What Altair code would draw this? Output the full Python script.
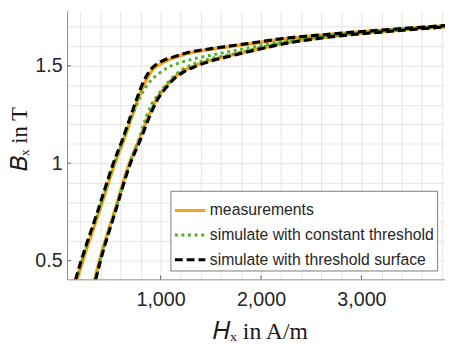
import altair as alt
import pandas as pd

SERIES = ["measurements", "simulate with constant threshold", "simulate with threshold surface"]
COLORS = ["#F5A31A", "#52B028", "#000000"]
DASHES = [[1, 0], [3, 3.7], [8, 4]]
WIDTHS = [3.5, 3.0, 3.2]

# measurements (orange)
meas_up_H = [167, 226, 388, 546, 638, 716, 786, 836, 912, 1010, 1137, 1265, 1490, 1725, 1921, 2215, 2539, 2862, 3200, 3519, 3850]
meas_up_B = [0.40, 0.50, 0.75, 1.00, 1.126, 1.242, 1.343, 1.405, 1.474, 1.513, 1.542, 1.563, 1.584, 1.601, 1.615, 1.637, 1.654, 1.669, 1.682, 1.694, 1.706]
meas_lo_H = [343, 392, 540, 690, 792, 880, 960, 1040, 1128, 1225, 1340, 1450, 1650, 1921, 2215, 2539, 2862, 3200, 3519, 3850]
meas_lo_B = [0.40, 0.50, 0.75, 1.00, 1.126, 1.242, 1.328, 1.386, 1.437, 1.473, 1.500, 1.521, 1.548, 1.580, 1.614, 1.640, 1.660, 1.675, 1.689, 1.701]

# simulate with constant threshold (green dotted)
const_up_H = [160, 218, 380, 540, 634, 712, 745, 800, 873, 971, 1069, 1186, 1333, 1588, 1921, 2215, 2539, 2862, 3200, 3519, 3850]
const_up_B = [0.40, 0.50, 0.75, 1.00, 1.126, 1.242, 1.278, 1.343, 1.405, 1.455, 1.490, 1.515, 1.536, 1.563, 1.596, 1.625, 1.648, 1.666, 1.680, 1.693, 1.705]
const_lo_H = [350, 398, 546, 696, 785, 860, 902, 1000, 1098, 1200, 1333, 1490, 1725, 1921, 2215, 2539, 2862, 3200, 3519, 3850]
const_lo_B = [0.40, 0.50, 0.75, 1.00, 1.126, 1.242, 1.293, 1.369, 1.429, 1.475, 1.510, 1.535, 1.560, 1.585, 1.618, 1.642, 1.662, 1.676, 1.689, 1.701]

# simulate with threshold surface (black dashed)
surf_up_H = [152, 210, 372, 530, 624, 702, 772, 822, 900, 1000, 1137, 1265, 1490, 1725, 1921, 2215, 2539, 2862, 3200, 3519, 3850]
surf_up_B = [0.40, 0.50, 0.75, 1.00, 1.126, 1.242, 1.343, 1.409, 1.480, 1.520, 1.547, 1.567, 1.587, 1.604, 1.618, 1.640, 1.656, 1.670, 1.683, 1.695, 1.707]
surf_lo_H = [353, 402, 549, 700, 804, 892, 971, 1049, 1137, 1235, 1350, 1461, 1657, 1921, 2215, 2539, 2862, 3200, 3519, 3850]
surf_lo_B = [0.40, 0.50, 0.75, 1.00, 1.126, 1.242, 1.328, 1.384, 1.434, 1.470, 1.497, 1.518, 1.545, 1.578, 1.612, 1.638, 1.658, 1.673, 1.687, 1.700]

X_DOMAIN = [69, 3832]
Y_DOMAIN = [0.404, 1.783]
x_grid = [200, 400, 600, 800, 1000, 1200, 1400, 1600, 1800, 2000, 2200, 2400, 2600, 2800, 3000, 3200, 3400, 3600, 3800]
x_major = [1000, 2000, 3000]
y_grid = [0.5, 0.6, 0.7, 0.8, 0.9, 1.0, 1.1, 1.2, 1.3, 1.4, 1.5, 1.6, 1.7]
y_major = [0.5, 1.0, 1.5]
X_TICK_LEN = 40      # inward tick length in A/m
Y_TICK_LEN = 0.02    # inward tick length in T

rows = []
def add(series, branch, H, B):
    for i, (h, b) in enumerate(zip(H, B)):
        rows.append({"series": series, "branch": branch, "H": h, "B": b, "i": i})

add(SERIES[0], "up", meas_up_H, meas_up_B)
add(SERIES[0], "lo", meas_lo_H, meas_lo_B)
add(SERIES[1], "up", const_up_H, const_up_B)
add(SERIES[1], "lo", const_lo_H, const_lo_B)
add(SERIES[2], "up", surf_up_H, surf_up_B)
add(SERIES[2], "lo", surf_lo_H, surf_lo_B)
df = pd.DataFrame(rows)

xticks_df = pd.DataFrame({"H": x_major, "B": [Y_DOMAIN[0]] * len(x_major),
                          "B2": [Y_DOMAIN[0] + Y_TICK_LEN] * len(x_major)})
yticks_df = pd.DataFrame({"B": y_major, "H": [X_DOMAIN[0]] * len(y_major),
                          "H2": [X_DOMAIN[0] + X_TICK_LEN] * len(y_major)})

x_major_js = "[" + ",".join(str(v) for v in x_major) + "]"
y_major_js = "[" + ",".join(str(v) for v in y_major) + "]"

xscale = alt.Scale(domain=X_DOMAIN, nice=False, zero=False)
yscale = alt.Scale(domain=Y_DOMAIN, nice=False, zero=False)

xaxis = alt.Axis(values=x_grid,
                 labelExpr=f"indexof({x_major_js}, datum.value) >= 0 ? format(datum.value, ',') : ''",
                 title="𝐻ₓ in A/m", titleFontSize=24,
                 titleX=196, titleY=60, titleBaseline="alphabetic", titleAlign="center",
                 labelPadding=11)
yaxis = alt.Axis(values=y_grid,
                 labelExpr=f"indexof({y_major_js}, datum.value) >= 0 ? format(datum.value, '~g') : ''",
                 title="𝐵ₓ in T", titleFontSize=23,
                 titleX=-41, titleY=130, titleBaseline="alphabetic", titleAlign="center",
                 titleAngle=270, labelPadding=5)

xenc = alt.X("H:Q", scale=xscale, axis=xaxis)
yenc = alt.Y("B:Q", scale=yscale, axis=yaxis)

legend = alt.Legend(title=None, orient="none", legendX=105, legendY=183,
                    symbolType="stroke", symbolSize=961, symbolStrokeWidth=3,
                    labelFont="Liberation Sans", labelFontSize=16, labelColor="#262626",
                    labelOffset=3, rowPadding=0, padding=3,
                    strokeColor="#7a7a7a", fillColor="#ffffff", labelLimit=400)

color = alt.Color("series:N", scale=alt.Scale(domain=SERIES, range=COLORS), legend=legend)
dash = alt.StrokeDash("series:N", scale=alt.Scale(domain=SERIES, range=DASHES), legend=legend)

layers = []
for s, w in zip(SERIES, WIDTHS):
    layers.append(
        alt.Chart(df).transform_filter(alt.datum.series == s)
        .mark_line(strokeWidth=w, interpolate="monotone", clip=True)
        .encode(x=xenc, y=yenc, color=color, strokeDash=dash,
                detail="branch:N", order="i:Q")
    )
xt = alt.Chart(xticks_df).mark_rule(color="#666666", strokeWidth=1).encode(
    x=xenc, y=yenc, y2="B2:Q")
yt = alt.Chart(yticks_df).mark_rule(color="#666666", strokeWidth=1).encode(
    y=yenc, x=xenc, x2="H2:Q")
layers += [xt, yt]

chart = alt.layer(*layers).properties(
    width=384, height=273,
    autosize=alt.AutoSizeParams(type="none"),
    padding={"left": 60, "top": 0, "right": 0, "bottom": 63},
).configure_view(stroke=None).configure_axis(
    grid=True, gridColor="#e4e4e4", gridWidth=1,
    domainColor="#8c8c8c", domainWidth=1,
    ticks=False, tickSize=0,
    labelFont="Liberation Sans", labelFontSize=20, labelColor="#262626",
    titleFont="Liberation Serif", titleFontWeight="normal", titleColor="#1a1a1a",
)

chart.save("out.html", embed_options={"renderer": "svg", "actions": False})
